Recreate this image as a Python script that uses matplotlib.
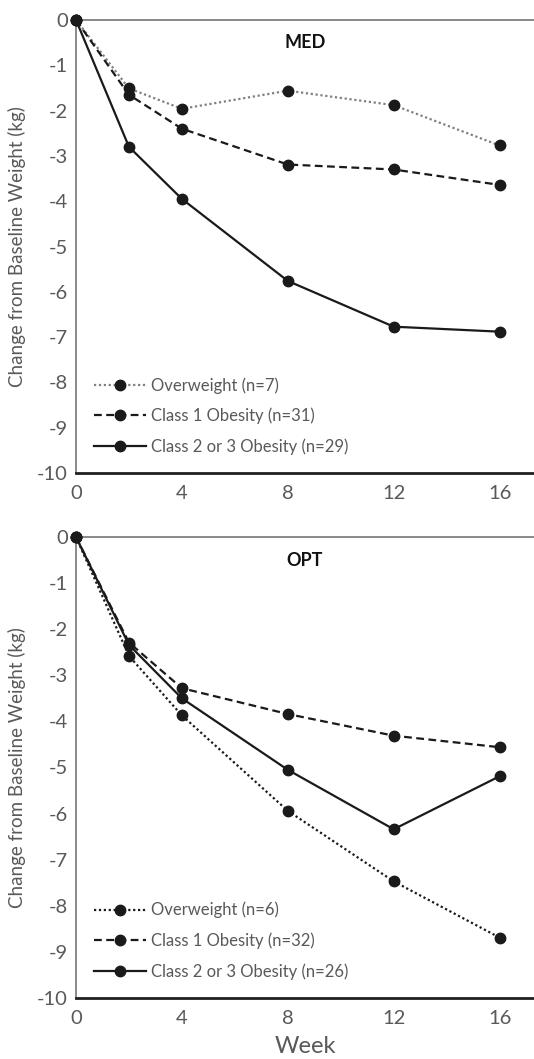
import matplotlib.pyplot as plt
import numpy as np

plt.rcParams['font.family'] = ['Lato', 'DejaVu Sans']
plt.rcParams['axes.unicode_minus'] = False

weeks = [0, 2, 4, 8, 12, 16]

med_over = [0, -1.51, -1.96, -1.56, -1.88, -2.77]
med_class1 = [0, -1.65, -2.40, -3.19, -3.30, -3.64]
med_class23 = [0, -2.80, -3.95, -5.76, -6.77, -6.88]

opt_over = [0, -2.58, -3.87, -5.94, -7.47, -8.69]
opt_class1 = [0, -2.29, -3.28, -3.84, -4.31, -4.56]
opt_class23 = [0, -2.34, -3.50, -5.05, -6.34, -5.19]

med_labels = ['Overweight (n=7)', 'Class 1 Obesity (n=31)', 'Class 2 or 3 Obesity (n=29)']
opt_labels = ['Overweight (n=6)', 'Class 1 Obesity (n=32)', 'Class 2 or 3 Obesity (n=26)']

x_ticks = [0, 4, 8, 12, 16]
y_ticks = np.arange(-10, 1, 1)

GRAY = '#808080'
TXT = '#595959'
DARK = '#231f20'

fig = plt.figure(figsize=(5.34, 10.59), dpi=100)
H = 1059.0
W = 534.0
ax1 = fig.add_axes([76 / W, 1 - 473 / H, (W - 76) / W, (473 - 20) / H])
ax2 = fig.add_axes([76 / W, 1 - 998 / H, (W - 76) / W, (998 - 537) / H])


def draw(ax, over, c1, c23, labels, title, over_color):
	ax.plot(weeks, over, linestyle=(0, (1, 1.2)), color=over_color, lw=1.6,
		marker='o', ms=7.5, mfc='#1a1a1a', mec='#1a1a1a', label=labels[0], clip_on=False, zorder=3)
	ax.plot(weeks, c1, linestyle=(0, (3.5, 2)), color='#1a1a1a', lw=1.6,
		marker='o', ms=7.5, mfc='#1a1a1a', mec='#1a1a1a', label=labels[1], clip_on=False, zorder=3)
	ax.plot(weeks, c23, linestyle='-', color='#1a1a1a', lw=1.6,
		marker='o', ms=7.5, mfc='#1a1a1a', mec='#1a1a1a', label=labels[2], clip_on=False, zorder=3)
	ax.set_xlim(0, 17.3)
	ax.set_ylim(-10, 0)
	ax.set_xticks(x_ticks)
	ax.set_yticks(y_ticks)
	ax.tick_params(length=0, labelsize=14.5, labelcolor=TXT, pad=6)
	ax.tick_params(axis='x', pad=9)
	ax.spines['right'].set_visible(False)
	ax.spines['top'].set_color(GRAY)
	ax.spines['top'].set_linewidth(1.3)
	ax.spines['left'].set_color(GRAY)
	ax.spines['left'].set_linewidth(1.3)
	ax.spines['bottom'].set_color(DARK)
	ax.spines['bottom'].set_linewidth(2)
	ax.set_ylabel('Change from Baseline Weight (kg)', fontsize=13.5, color=TXT, labelpad=8)
	ax.text(0.5, 0.95, title, transform=ax.transAxes, ha='center', va='center',
		fontsize=13, fontweight='bold', color='#111111')
	leg = ax.legend(loc='lower left', bbox_to_anchor=(0.025, 0.025), frameon=False,
		fontsize=12, handlelength=3.1, handletextpad=0.3, labelspacing=0.85, borderaxespad=0)
	for t in leg.get_texts():
		t.set_color(TXT)


draw(ax1, med_over, med_class1, med_class23, med_labels, 'MED', GRAY)
draw(ax2, opt_over, opt_class1, opt_class23, opt_labels, 'OPT', '#1a1a1a')
ax2.set_xlabel('Week', fontsize=17, color=TXT, labelpad=6)

fig.savefig('out.png', dpi=100)
